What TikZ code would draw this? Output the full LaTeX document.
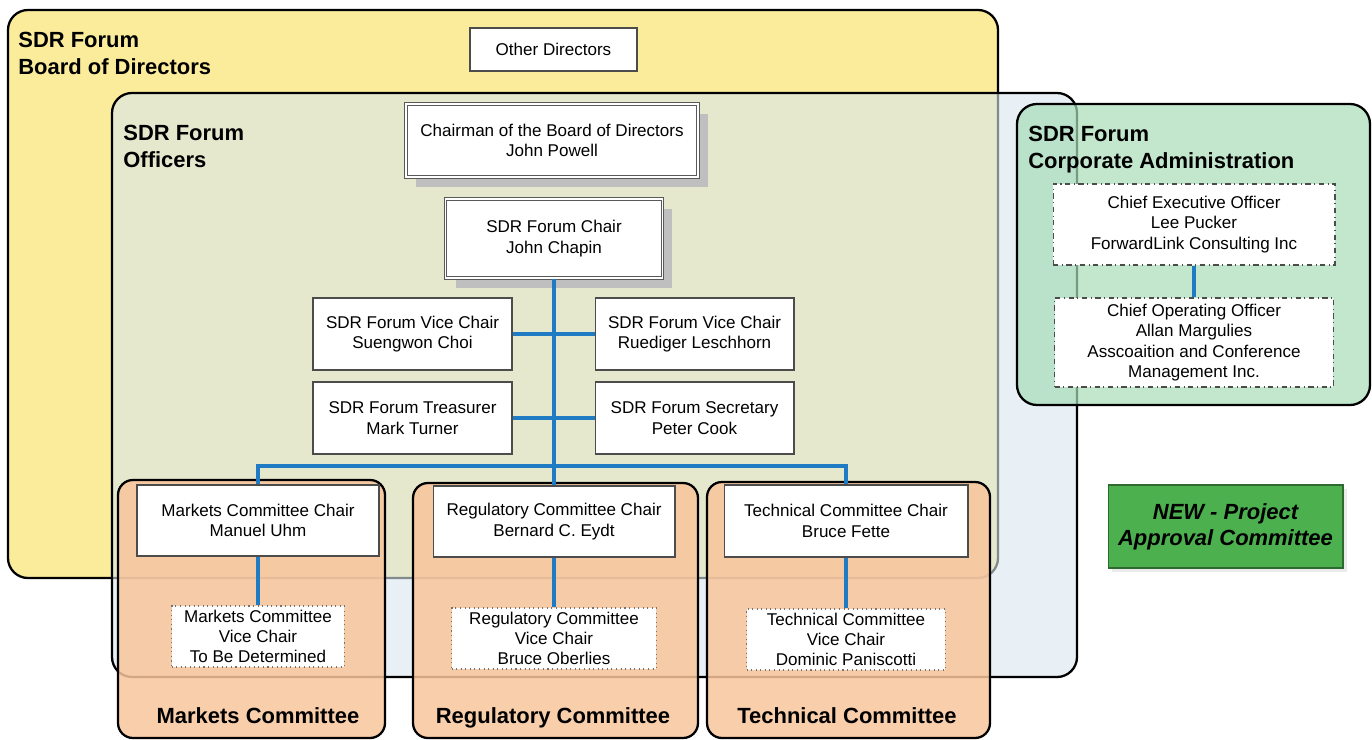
\documentclass[tikz,border=0pt]{standalone}
\usepackage{fontspec}
\setmainfont{Liberation Sans}
\usepackage{tikz}
\definecolor{boardyellow}{HTML}{FBEC9C}
\definecolor{officerblue}{HTML}{D8E6EE}
\definecolor{corpgreen}{HTML}{A8DDB8}
\definecolor{cmtorange}{HTML}{F8C59C}
\definecolor{linkblue}{HTML}{1F7BC4}
\definecolor{pacgreen}{HTML}{4DB04F}
\usetikzlibrary{shadows, positioning, calc}

\begin{document}
\begin{tikzpicture}[x=0.02cm, y=-0.02cm,
  role/.style={draw=black!70, line width=0.6pt, fill=white, align=center, inner sep=2pt, font=\fontsize{9.7}{11.6}\selectfont},
  lead/.style={role, draw=black!65, double=white, double distance=0.9pt, drop shadow={shadow xshift=0.2cm, shadow yshift=-0.2cm, fill=black!25, opacity=1}},
  vice/.style={role, draw=black!55, dotted},
  exec/.style={role, draw=black!70, dash dot},
  group/.style={draw=black, line width=1.3pt, rounded corners=0.4cm},
  title/.style={anchor=north west, align=left, inner sep=0pt, font=\fontsize{12.5}{15.3}\selectfont\bfseries},
  cmttitle/.style={anchor=base, inner sep=0pt, font=\fontsize{12.5}{15}\selectfont\bfseries},
  link/.style={linkblue, line width=2.1pt}]
\useasboundingbox (0,0) rectangle (1372,740);
% Draw group frames
\draw[group, fill=boardyellow] (8,10) rectangle (998,578);
\draw[group, fill=officerblue, fill opacity=0.6] (112,93) rectangle (1077,677);
\draw[group, fill=corpgreen, fill opacity=0.7] (1017,104) rectangle (1370,405);
\foreach \l/\r/\t/\c/\n/\txt in {118/385/480/258/m/Markets, 413/698/483/553/r/Regulatory, 707/990/482/847/t/Technical} {
    \draw[group, rounded corners=0.3cm, fill=cmtorange, fill opacity=0.85] (\l,\t) rectangle (\r,738);
    \node[cmttitle] (\n title) at (\c, 723) {\txt\ Committee};
}
\node[title] (boardtitle) at (18,32) {SDR Forum\\Board of Directors};
\node[title] (officertitle) at (123,125) {SDR Forum\\Officers};
\node[title] (corptitle) at (1028,126) {SDR Forum\\Corporate Administration};
% Board and officers
\node[role, minimum width=3.34cm, minimum height=0.86cm] (other) at (553.5,49.5) {Other Directors};
\node[lead, minimum width=5.84cm, minimum height=1.46cm] (chairman) at (552,140.5) {Chairman of the Board of Directors\\John Powell};
\node[lead, minimum width=4.34cm, minimum height=1.58cm] (chair) at (554,238.5) {SDR Forum Chair\\John Chapin};
\node[role, minimum width=3.98cm, minimum height=1.44cm] (vcleft) at (412.5,334) {SDR Forum Vice Chair\\Suengwon Choi};
\node[role, minimum width=3.98cm, minimum height=1.44cm] (vcright) at (694.5,334) {SDR Forum Vice Chair\\Ruediger Leschhorn};
\node[role, minimum width=3.98cm, minimum height=1.44cm] (treasurer) at (412.5,418) {SDR Forum Treasurer\\Mark Turner};
\node[role, minimum width=3.98cm, minimum height=1.44cm] (secretary) at (694.5,418) {SDR Forum Secretary\\Peter Cook};
% Committee chairs
\node[role, minimum width=4.84cm, minimum height=1.42cm] (mchair) at (258,520.5) {Markets Committee Chair\\Manuel Uhm};
\node[role, minimum width=4.84cm, minimum height=1.42cm] (rchair) at (554,521.5) {Regulatory Committee Chair\\Bernard C. Eydt};
\node[role, minimum width=4.88cm, minimum height=1.44cm] (tchair) at (846,521) {Technical Committee Chair\\Bruce Fette};
\node[vice, minimum width=3.46cm, minimum height=1.22cm] (mvice) at (258,636.5) {Markets Committee\\Vice Chair\\To Be Determined};
\node[vice, minimum width=4.10cm, minimum height=1.22cm] (rvice) at (554,638.5) {Regulatory Committee\\Vice Chair\\Bruce Oberlies};
\node[vice, minimum width=3.98cm, minimum height=1.22cm] (tvice) at (846,639.5) {Technical Committee\\Vice Chair\\Dominic Paniscotti};
% Corporate administration
\node[exec, minimum width=5.64cm, minimum height=1.62cm] (ceo) at (1194,224.5) {Chief Executive Officer\\Lee Pucker\\ForwardLink Consulting Inc};
\node[exec, minimum width=5.58cm, minimum height=1.78cm] (coo) at (1194,342.5) {Chief Operating Officer\\Allan Margulies\\Asscoaition and Conference\\Management Inc.};
\node[role, draw=pacgreen!60!black, fill=pacgreen, minimum width=4.7cm, minimum height=1.66cm, font=\fontsize{12.5}{14.7}\selectfont\bfseries\itshape, drop shadow={shadow xshift=0.08cm, shadow yshift=-0.08cm, fill=black!8, opacity=1}] (pac) at (1225.5,526.5) {NEW - Project\\Approval Committee};
% Connectors
\coordinate (bus) at (554,466);
\draw[link] (chair) -- (bus);
\draw[link] (vcleft) -- (vcright);
\draw[link] (treasurer) -- (secretary);
\draw[link] (bus) -| (mchair.north);
\draw[link] (bus) -| (tchair.north);
\draw[link] (bus) -- (rchair.north);
\draw[link] (mchair) -- (mvice);
\draw[link] (rchair) -- (rvice);
\draw[link] (tchair) -- (tvice);
\draw[link] (ceo) -- (coo);
\end{tikzpicture}
\end{document}
